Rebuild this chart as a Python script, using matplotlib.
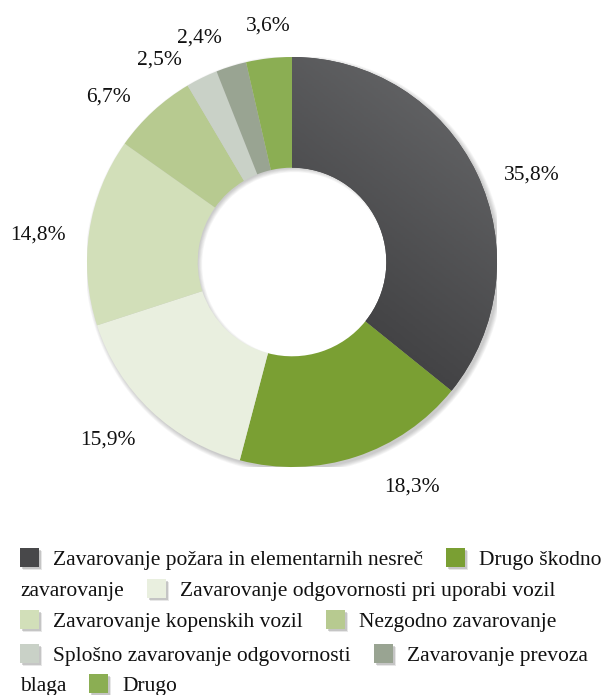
import numpy as np
import matplotlib
matplotlib.use("Agg")
import matplotlib.pyplot as plt
from matplotlib.patches import Wedge, Rectangle

plt.rcParams['font.family'] = ['Liberation Serif', 'DejaVu Serif']

categories = ["Zavarovanje požara in elementarnih nesreč", "Drugo škodno zavarovanje",
              "Zavarovanje odgovornosti pri uporabi vozil", "Zavarovanje kopenskih vozil",
              "Nezgodno zavarovanje", "Splošno zavarovanje odgovornosti",
              "Zavarovanje prevoza blaga", "Drugo"]
shares = [35.8, 18.3, 15.9, 14.8, 6.7, 2.5, 2.4, 3.6]
labels = ["35,8%", "18,3%", "15,9%", "14,8%", "6,7%", "2,5%", "2,4%", "3,6%"]
colors = ["#48484a", "#7a9f33", "#e9efdf", "#d2dfb9", "#b7ca90", "#c9d1c7", "#99a492", "#8bae53"]

# label placement: nudge of the mid angle (deg) and radius (in pie radii)
nudge = [-5.0, 10.2, -3.0, 1.9, 4.9, 6.7, 4.8, -0.8]
lab_r = [1.25, 1.23, 1.24, 1.25, 1.215, 1.19, 1.195, 1.17]

W, H = 609, 695
fig = plt.figure(figsize=(W / 100, H / 100), dpi=100)

# pie axes: centre (292, 262) px, radius 205 px
cx, cy, R = 292, 262, 205
ax = fig.add_axes([(cx - R) / W, 1 - (cy + R) / H, 2 * R / W, 2 * R / H])

# soft shadow
for k in range(6):
    sh = Wedge((0.012, -0.012), 1.0 + 0.004 * k, 0, 360, width=0.55, color='#000000',
               alpha=0.035, lw=0)
    ax.add_patch(sh)

wedges, _ = ax.pie(shares, colors=colors, startangle=90, counterclock=False, radius=1.0,
                   wedgeprops=dict(width=0.54, edgecolor='none', linewidth=0))

# gradient on the first (dark) slice
gx, gy = np.meshgrid(np.linspace(-1, 1, 200), np.linspace(-1, 1, 200))
grad = np.clip(0.5 + 0.35 * (gx * 0.6 + gy * 0.8), 0, 1)
cmap = matplotlib.colors.LinearSegmentedColormap.from_list("g", ["#3e3e40", "#444446", "#6a6b6d"])
im = ax.imshow(grad, extent=(-1, 1, -1, 1), origin='lower', cmap=cmap, zorder=wedges[0].get_zorder() + 0.1)
im.set_clip_path(wedges[0])
ax.set_xlim(-1, 1)
ax.set_ylim(-1, 1)
ax.axis('off')

# percentage labels
cum = np.cumsum([0] + shares[:-1])
for i, (s, lab) in enumerate(zip(shares, labels)):
    mid = np.deg2rad(90 - 3.6 * (cum[i] + s / 2) + nudge[i])
    r = lab_r[i]
    ax.text(r * np.cos(mid), r * np.sin(mid) - 0.036, lab, ha='center', va='baseline',
            fontsize=15.5, color='#111111', clip_on=False)

# legend as flowing text
rows = [
    [("sq", 0), ("tx", "Zavarovanje požara in elementarnih nesreč"), ("sq", 1), ("tx", "Drugo škodno")],
    [("tx", "zavarovanje"), ("sq", 2), ("tx", "Zavarovanje odgovornosti pri uporabi vozil")],
    [("sq", 3), ("tx", "Zavarovanje kopenskih vozil"), ("sq", 4), ("tx", "Nezgodno zavarovanje")],
    [("sq", 5), ("tx", "Splošno zavarovanje odgovornosti"), ("sq", 6), ("tx", "Zavarovanje prevoza")],
    [("tx", "blaga"), ("sq", 7), ("tx", "Drugo")],
]
row_y = [557, 588, 619, 653, 683]
fig.canvas.draw()
renderer = fig.canvas.get_renderer()
sq = 19
for items, y in zip(rows, row_y):
    x = 20
    for kind, val in items:
        if kind == "sq":
            for k, a in enumerate([0.35, 0.2]):
                fig.patches.append(Rectangle(((x + 2 + k) / W, 1 - (y + sq / 2 + 2 + k) / H), sq / W, sq / H,
                                             transform=fig.transFigure, color='#888888', alpha=a, lw=0))
            fig.patches.append(Rectangle((x / W, 1 - (y + sq / 2) / H), sq / W, sq / H,
                                         transform=fig.transFigure, color=colors[val], lw=0))
            x += sq + 14
        else:
            t = fig.text(x / W, 1 - (y + 8) / H, val, ha='left', va='baseline', fontsize=15.5,
                         color='#111111')
            w = t.get_window_extent(renderer).width
            x += w + 23

fig.savefig("out.png", dpi=100)
